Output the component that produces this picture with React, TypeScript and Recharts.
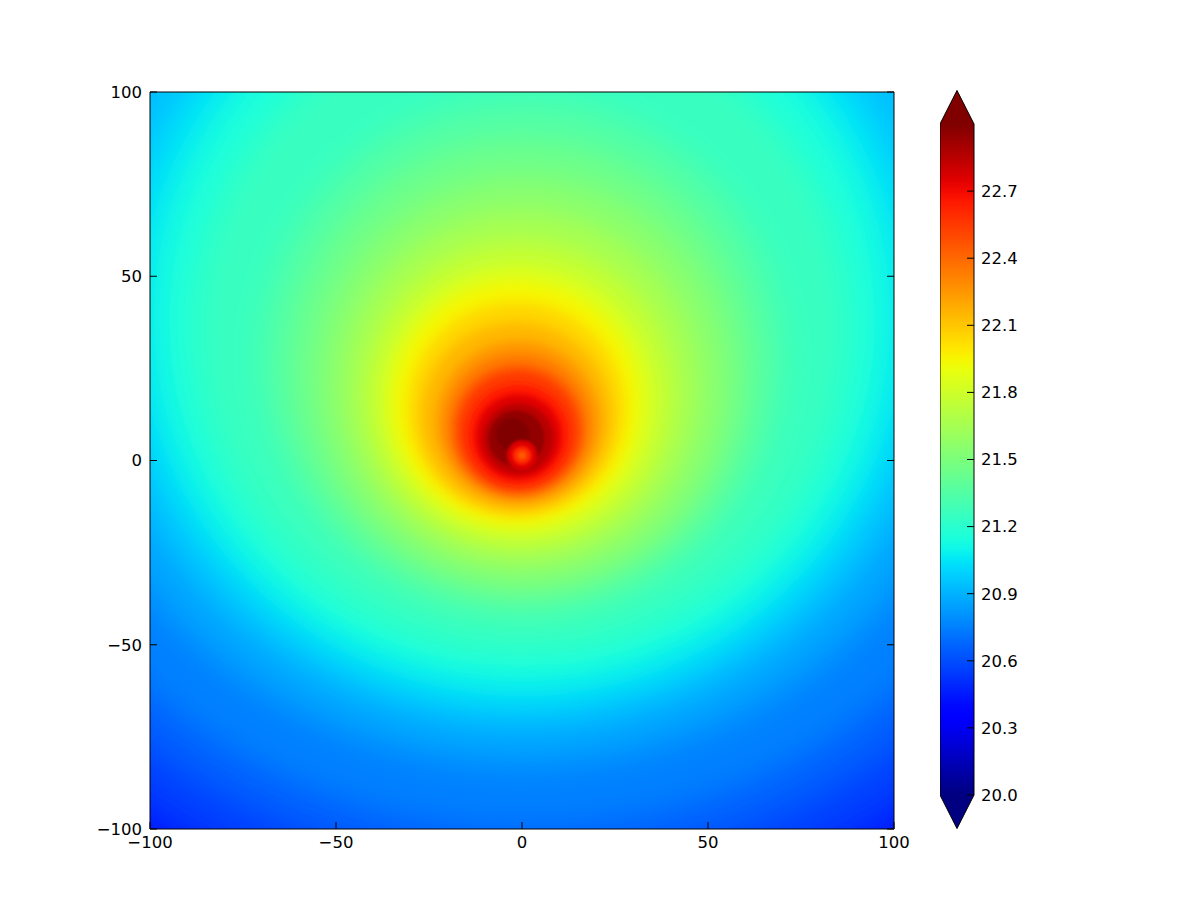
import React from 'react';
import { ComposedChart, Scatter, Bar, XAxis, YAxis } from 'recharts';

const AXIS_TICKS = [-100, -50, 0, 50, 100];
const CB_TICKS = [20.0, 20.3, 20.6, 20.9, 21.2, 21.5, 21.8, 22.1, 22.4, 22.7];
const VMIN = 20;
const VMAX = 23;

// Contour levels, outermost first (last three are the small spot at the centre).
// value, centre x, centre y, radius - all in data units
const LEVEL_VALUES = [20.3, 20.4, 20.5, 20.6, 20.7, 20.8, 20.9, 21.0, 21.1, 21.2, 21.3, 21.4, 21.5, 21.6, 21.7, 21.8, 21.9, 22.0, 22.1, 22.2, 22.3, 22.4, 22.5, 22.6, 22.7, 22.8, 22.9, 23.0, 22.7, 22.55, 22.4];
const LEVEL_CX = [0, 0, 0, 0, 0, 0, 0, 0, 0, 0, 0, 0, 0.5, 0, -0.5, -1, -1.5, -1.5, -1.5, -1, -1, -1, -1, -1, -1, -1, -1.5, -2.5, 0, 0, 0];
const LEVEL_CY = [65, 62, 60, 58, 55, 50, 45, 41, 39, 36, 28, 25, 22, 20, 18, 16.5, 15.5, 14, 12, 10.5, 9.5, 8.5, 8, 7, 6.5, 6, 6, 7, 1.5, 1.4, 1.4];
const LEVEL_R = [240, 200, 185, 170, 155, 133, 118, 107, 99, 88, 70, 62, 55, 48, 42, 37, 33, 29, 25.5, 22, 19.5, 17.5, 16, 13.5, 11.5, 9.5, 7.5, 4.5, 4, 2.5, 1.2];

const levelData = LEVEL_VALUES.map((v, i) => ({ x: LEVEL_CX[i], y: LEVEL_CY[i], r: LEVEL_R[i], v, id: i }));
const colorbarData = [{ name: 'cb', range: [VMIN, VMAX] }];

// matplotlib "jet"
const JET_R = [[0, 0], [0.35, 0], [0.66, 1], [0.89, 1], [1, 0.5]];
const JET_G = [[0, 0], [0.125, 0], [0.375, 1], [0.64, 1], [0.91, 0], [1, 0]];
const JET_B = [[0, 0.5], [0.11, 1], [0.34, 1], [0.65, 0], [1, 0]];

const seg = (pts: number[][], t: number) => {
  for (let i = 1; i < pts.length; i++) {
    if (t <= pts[i][0]) {
      const [t0, v0] = pts[i - 1];
      const [t1, v1] = pts[i];
      return v0 + ((t - t0) / (t1 - t0)) * (v1 - v0);
    }
  }
  return pts[pts.length - 1][1];
};

const jet = (value: number) => {
  const t = Math.min(1, Math.max(0, (value - VMIN) / (VMAX - VMIN)));
  const c = (x: number) => Math.round(x * 255);
  return `rgb(${c(seg(JET_R, t))},${c(seg(JET_G, t))},${c(seg(JET_B, t))})`;
};

// plot box size in px, used for circle radii
const PLOT_W = 744;
const PLOT_H = 737;
const PX_X = PLOT_W / 200;
const PX_Y = PLOT_H / 200;
const MARGIN = { top: 92, right: 306, bottom: 92, left: 150 };

const fmt = (v: number) => (v < 0 ? `\u2212${Math.abs(v)}` : `${v}`);
const tickStyle = { fill: '#000', fontSize: 16.5, fontFamily: 'DejaVu Sans' };

const LevelShape = (props: any) => {
  const { cx, cy, payload } = props;
  const rx = payload.r * PX_X;
  const ry = payload.r * PX_Y;
  const blur = Math.min(16, Math.max(1.5, rx * 0.06));
  const fid = `lvl-blur-${payload.id}`;
  return (
    <g>
      <defs>
        <filter id={fid} x="-30%" y="-30%" width="160%" height="160%">
          <feGaussianBlur stdDeviation={blur} />
        </filter>
      </defs>
      <ellipse cx={cx} cy={cy} rx={rx} ry={ry} fill={jet(payload.v + 0.05)} filter={`url(#${fid})`} />
    </g>
  );
};

const gradStops = Array.from({ length: 61 }, (_, i) => i / 60);

// colour bar body plus the two "extend" triangles (5% of the bar length each)
const ColorBar = (props: any) => {
  const { x, y, width, height } = props;
  const cap = height * 0.05;
  const mid = x + width / 2;
  return (
    <g>
      <defs>
        <linearGradient id="jetbar" x1="0" y1="1" x2="0" y2="0">
          {gradStops.map((t) => (
            <stop key={t} offset={`${t * 100}%`} stopColor={jet(VMIN + t * (VMAX - VMIN))} />
          ))}
        </linearGradient>
      </defs>
      <rect x={x} y={y} width={width} height={height} fill="url(#jetbar)" />
      <path d={`M${x},${y} L${mid},${y - cap} L${x + width},${y} Z`} fill={jet(VMAX)} />
      <path d={`M${x},${y + height} L${mid},${y + height + cap} L${x + width},${y + height} Z`} fill={jet(VMIN)} />
      <path
        d={`M${x},${y} L${mid},${y - cap} L${x + width},${y} L${x + width},${y + height} L${mid},${y + height + cap} L${x},${y + height} Z`}
        fill="none"
        stroke="#000"
        strokeWidth={1}
      />
    </g>
  );
};

export default function App() {
  return (
    <div style={{ position: 'absolute', left: 0, top: 0, width: 1200, height: 921, background: '#fff' }}>
      {/* field */}
      <div style={{ position: 'absolute', left: 0, top: 0 }}>
        <ComposedChart width={1200} height={921} margin={MARGIN}>
          <XAxis dataKey="x" type="number" domain={[-100, 100]} allowDataOverflow hide />
          <YAxis dataKey="y" type="number" domain={[-100, 100]} allowDataOverflow hide />
          <Scatter data={levelData} dataKey="y" shape={<LevelShape />} isAnimationActive={false} />
        </ComposedChart>
      </div>

      {/* frame + ticks drawn on top */}
      <div style={{ position: 'absolute', left: 0, top: 0 }}>
        <ComposedChart width={1200} height={921} margin={{ top: 91, right: 305, bottom: 62, left: 90 }}>
          <XAxis
            dataKey="x"
            type="number"
            domain={[-100, 100]}
            ticks={AXIS_TICKS}
            interval={0}
            allowDataOverflow
            height={30}
            stroke="#000"
            tickSize={-7}
            tickMargin={14}
            tick={tickStyle}
            tickFormatter={fmt}
          />
          <XAxis
            xAxisId="top"
            orientation="top"
            type="number"
            domain={[-100, 100]}
            ticks={AXIS_TICKS}
            interval={0}
            allowDataOverflow
            height={1}
            stroke="#000"
            tickSize={-7}
            tickFormatter={() => ''}
          />
          <YAxis
            dataKey="y"
            type="number"
            domain={[-100, 100]}
            ticks={AXIS_TICKS}
            interval={0}
            allowDataOverflow
            width={60}
            stroke="#000"
            tickSize={-7}
            tickMargin={15}
            tick={tickStyle}
            tickFormatter={fmt}
          />
          <YAxis
            yAxisId="right"
            orientation="right"
            type="number"
            domain={[-100, 100]}
            ticks={AXIS_TICKS}
            interval={0}
            allowDataOverflow
            width={1}
            stroke="#000"
            tickSize={-7}
            tickFormatter={() => ''}
          />
        </ComposedChart>
      </div>

      {/* colour bar */}
      <div style={{ position: 'absolute', left: 940, top: 0 }}>
        <ComposedChart
          width={100}
          height={921}
          data={colorbarData}
          margin={{ top: 124, right: 6, bottom: 126, left: 0 }}
          barCategoryGap={0}
        >
          <XAxis type="category" dataKey="name" hide />
          <YAxis
            orientation="right"
            type="number"
            domain={[VMIN, VMAX]}
            ticks={CB_TICKS}
            interval={0}
            width={60}
            axisLine={false}
            stroke="#000"
            tickSize={-7}
            tickMargin={14}
            tick={tickStyle}
            tickFormatter={(v: number) => v.toFixed(1)}
          />
          <Bar dataKey="range" shape={<ColorBar />} isAnimationActive={false} />
        </ComposedChart>
      </div>
    </div>
  );
}
